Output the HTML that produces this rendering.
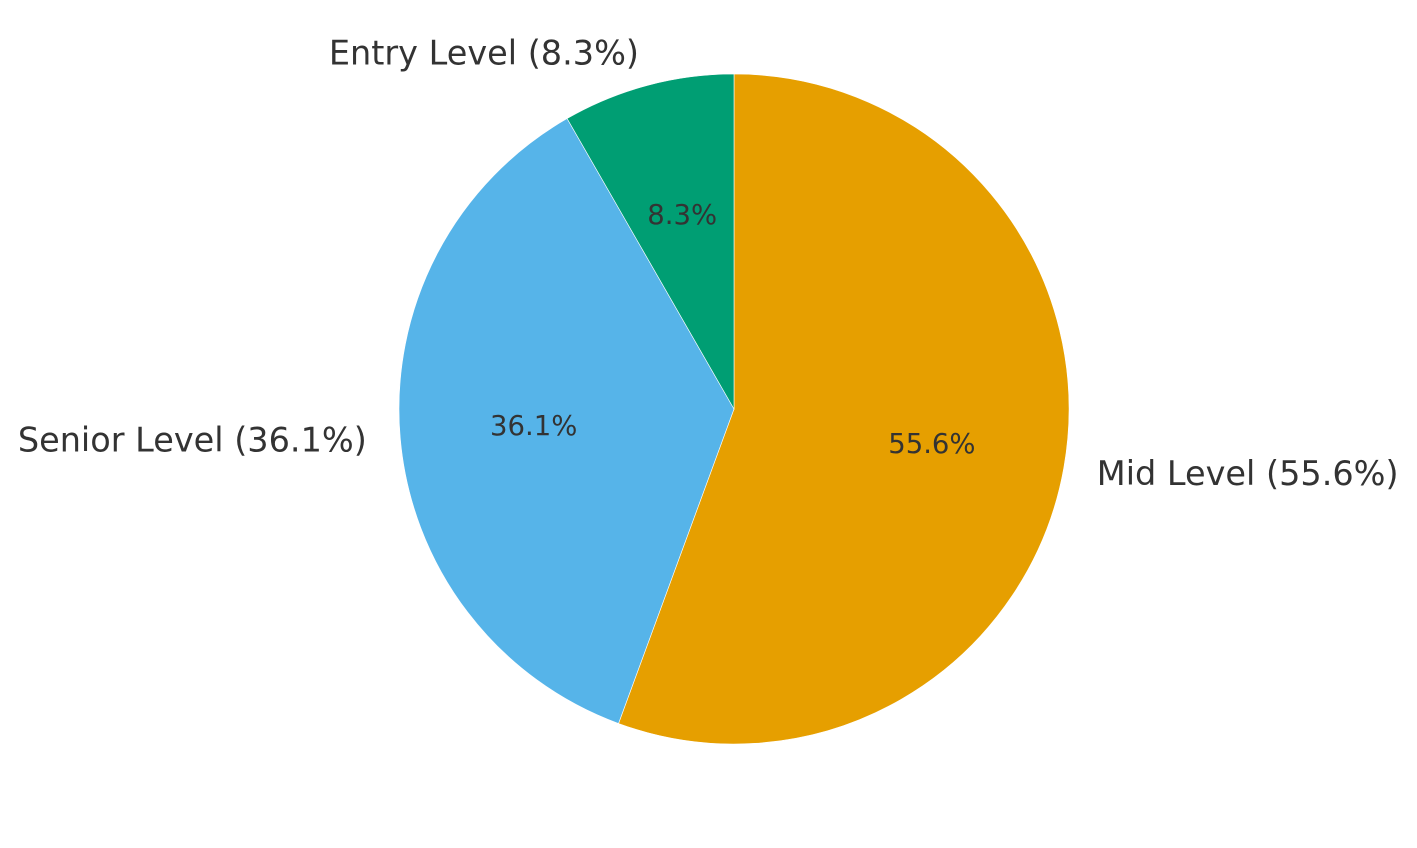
<!DOCTYPE html>
<html><head><meta charset="utf-8"><style>
html,body{margin:0;padding:0;background:#fff;}
svg{display:block;font-family:"DejaVu Sans","Liberation Sans",sans-serif;}
</style></head><body>
<svg id="chart" width="1417" height="848"></svg>
<script>
const categories = ["Mid Level", "Senior Level", "Entry Level"];
const values = [55.6, 36.1, 8.3];
const colors = ["#E69F00", "#56B4E9", "#009E73"];
const cx = 734, cy = 409, r = 335;
const svg = document.getElementById('chart');
const NS = 'http://www.w3.org/2000/svg';
const total = values.reduce((a,b)=>a+b,0);
function pt(deg, rr){ const a = deg*Math.PI/180; return [cx + rr*Math.cos(a), cy - rr*Math.sin(a)]; }
let start = 90;
values.forEach((v,i)=>{
  const sweep = v/total*360;
  const end = start - sweep;
  const [x1,y1] = pt(start,r), [x2,y2] = pt(end,r);
  const p = document.createElementNS(NS,'path');
  p.setAttribute('d', `M${cx},${cy} L${x1},${y1} A${r},${r} 0 ${sweep>180?1:0} 1 ${x2},${y2} Z`);
  p.setAttribute('fill', colors[i]);
  p.setAttribute('stroke', '#fff');
  p.setAttribute('stroke-width', '0.6');
  
  
  svg.appendChild(p);
  const mid = start - sweep/2;
  const [lx,ly] = pt(mid, r*1.1);
  const t = document.createElementNS(NS,'text');
  t.setAttribute('x', lx); t.setAttribute('y', ly);
  t.setAttribute('text-anchor', Math.cos(mid*Math.PI/180) >= 0 ? 'start' : 'end');
  t.setAttribute('dominant-baseline', 'central');
  t.setAttribute('font-size', '33.5');
  t.setAttribute('fill', '#333');
  t.textContent = `${categories[i]} (${v.toFixed(1)}%)`;
  
  
  svg.appendChild(t);
  const [px,py] = pt(mid, r*0.6);
  const pt2 = document.createElementNS(NS,'text');
  pt2.setAttribute('x', px); pt2.setAttribute('y', py);
  pt2.setAttribute('text-anchor', 'middle');
  pt2.setAttribute('dominant-baseline', 'central');
  pt2.setAttribute('font-size', '27.5');
  pt2.setAttribute('fill', '#333');
  pt2.textContent = `${v.toFixed(1)}%`;
  
  
  svg.appendChild(pt2);
  start = end;
});
</script>
</body></html>
